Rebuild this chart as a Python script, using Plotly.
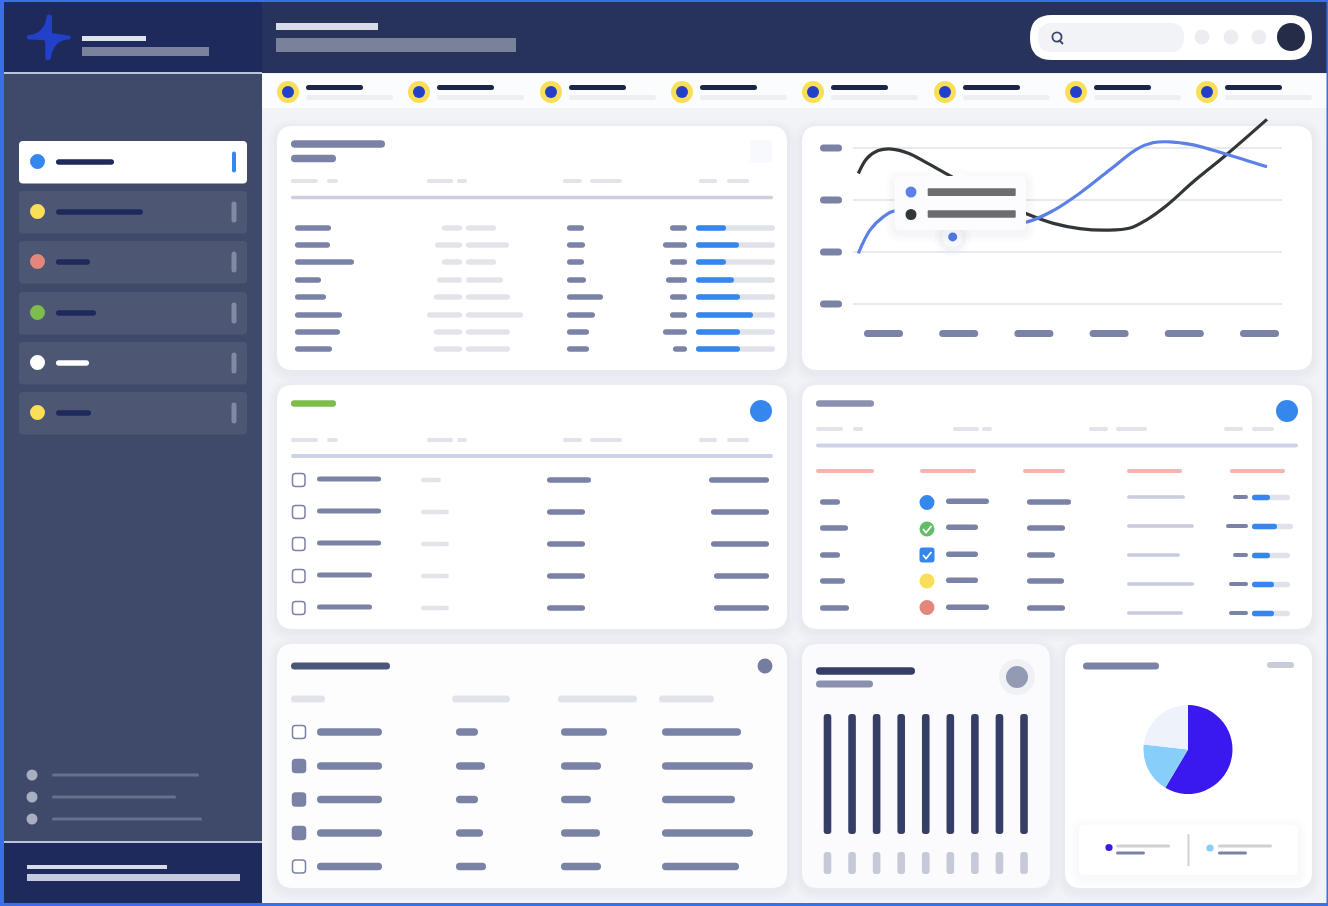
import plotly.graph_objects as go

W, H = 1328, 906

# ---- chart data ----
line_months = [0, 1, 2, 3, 4, 5]
line_levels = [0, 1, 2, 3]
dark_x = [-0.335, -0.22, -0.07, 0.11, 0.33, 0.57, 0.88, 1.40, 1.91, 2.26, 2.61, 2.97, 3.28, 3.50, 3.77, 4.12, 4.56, 5.10]
dark_y = [2.51, 2.80, 2.95, 2.98, 2.90, 2.72, 2.47, 2.06, 1.73, 1.55, 1.45, 1.42, 1.46, 1.62, 1.90, 2.35, 2.87, 3.55]
blue_x = [-0.335, -0.18, 0.0, 0.15, 0.50, 1.00, 1.50, 1.91, 2.25, 2.61, 3.01, 3.37, 3.58, 3.77, 4.12, 4.56, 5.10]
blue_y = [0.975, 1.42, 1.68, 1.79, 1.72, 1.60, 1.55, 1.58, 1.79, 2.13, 2.58, 2.98, 3.10, 3.12, 3.06, 2.88, 2.64]
hover_x = [0.92]
hover_y = [1.29]

bar_slots = [0, 1, 2, 3, 4, 5, 6, 7, 8]
tall_bars = [120, 120, 120, 120, 120, 120, 120, 120, 120]
short_bars = [22, 22, 22, 22, 22, 22, 22, 22, 22]

pie_labels = ["A", "B", "C"]
pie_values = [58.5, 18.3, 23.2]

# ---- skeleton rows of the placeholder tables ----
t1_rows = [228, 245, 262, 280, 297, 315, 332, 349]
t1_a = [331, 330, 354, 321, 326, 342, 340, 332]
t1_b = [442, 435, 442, 437, 434, 427, 434, 434]
t1_c = [496, 509, 496, 503, 510, 523, 510, 510]
t1_d = [584, 585, 584, 586, 603, 595, 589, 589]
t1_e = [670, 663, 670, 666, 670, 670, 663, 673]
t1_f = [726, 739, 726, 734, 740, 753, 740, 740]

t3_rows = [480, 512, 544, 576, 608]
t3_a = [381, 381, 381, 372, 372]
t3_c = [591, 585, 585, 585, 585]
t3_d = [709, 711, 711, 714, 714]

t4_rows = [502, 528, 555, 581, 608]
t4_a = [840, 848, 840, 845, 849]
t4_b = [989, 978, 978, 978, 989]
t4_c = [1071, 1065, 1055, 1064, 1065]
t4_d = [1185, 1194, 1180, 1194, 1183]
t4_e = [1233, 1226, 1233, 1229, 1229]
t4_f = [1270, 1277, 1270, 1274, 1274]
t4_g = [1290, 1293, 1290, 1290, 1290]
t4_sub = [497, 526, 555, 584, 613]

t5_rows = [732, 766, 799.5, 833, 866.5]
t5_filled = [False, True, True, True, False]
t5_b = [478, 485, 478, 483, 486]
t5_c = [607, 601, 591, 600, 601]
t5_d = [741, 753, 735, 753, 739]

nav_rows = [141, 191, 241, 292, 342, 392]
nav_dots = ["#3587ee", "#f9de58", "#e2877a", "#7cbd4d", "#ffffff", "#f9de58"]
nav_ends = [114, 143, 90, 96, 89, 91]
stat_x = [288, 419, 551, 682, 813, 945, 1076, 1207]

SLATE = "#7a82a6"
LIGHT = "#e3e4ea"
shapes = []


def rr_path(x0, y0, x1, y1, r):
    r = min(r, (x1 - x0) / 2, (y1 - y0) / 2)
    return (f"M{x0+r},{y0} L{x1-r},{y0} Q{x1},{y0} {x1},{y0+r} L{x1},{y1-r} Q{x1},{y1} {x1-r},{y1} "
            f"L{x0+r},{y1} Q{x0},{y1} {x0},{y1-r} L{x0},{y0+r} Q{x0},{y0} {x0+r},{y0} Z")


def rr(x0, y0, x1, y1, r, fill, line=None, lw=0, layer="below"):
    shapes.append(dict(type="path", xref="x", yref="y", path=rr_path(x0, y0, x1, y1, r), fillcolor=fill,
                       line=dict(color=line or "rgba(0,0,0,0)", width=lw), layer=layer))


def pill(x0, x1, yc, h, fill, layer="below"):
    rr(x0, yc - h / 2, x1, yc + h / 2, h / 2, fill, layer=layer)


def rect(x0, y0, x1, y1, fill, layer="below"):
    shapes.append(dict(type="rect", xref="x", yref="y", x0=x0, y0=y0, x1=x1, y1=y1, fillcolor=fill,
                       line=dict(width=0), layer=layer))


def dot(cx, cy, r, fill, line=None, lw=0, layer="below"):
    shapes.append(dict(type="circle", xref="x", yref="y", x0=cx - r, y0=cy - r, x1=cx + r, y1=cy + r, fillcolor=fill,
                       line=dict(color=line or "rgba(0,0,0,0)", width=lw), layer=layer))


def stroke(path, color, lw, layer="below"):
    shapes.append(dict(type="path", xref="x", yref="y", path=path, line=dict(color=color, width=lw), layer=layer))


def shadow(x0, y0, x1, y1, r, layer="below", alpha=0.02):
    for g in (9, 6, 3):
        rr(x0 - g, y0 - g + 3, x1 + g, y1 + g + 3, r + g, f"rgba(110,120,150,{alpha})", layer=layer)


def card(x0, y0, x1, y1, fill="#ffffff"):
    shadow(x0, y0, x1, y1, 16)
    rr(x0, y0, x1, y1, 16, fill)


# ---- frame, sidebar, header ----
rect(0, 0, W, H, "#f2f3f6")
rect(4, 73, 262, 842, "#3f4a6b")
rect(4, 2, 262, 72, "#1f2a5c")
rect(262, 2, W, 73, "#28335c")
rect(4, 842, 262, 904, "#1f2a5c")
rect(4, 72, 262, 74, "#bcc4dc")
rect(4, 841, 262, 843, "#bcc4dc")
shapes.append(dict(type="path", xref="x", yref="y", fillcolor="#2340c8", line=dict(width=0), layer="below",
                   path="M46.7,16 Q47,14.5 49.3,14.5 Q52,14.5 52,16.5 L52,33 L70,35.7 Q71.5,37.5 70,39.3 "
                        "Q53,40 50.7,59 Q49,60.5 47,60 Q45.3,60 45.3,58 L45.3,44.7 L44.7,40.3 L27.5,39.3 "
                        "Q26,37.5 27.5,35.3 Q44.7,34 46.7,16 Z"))
rect(82, 36, 146, 41, "#dfe3ec")
rect(82, 47, 209, 56, "#7a829c")
rect(276, 23, 378, 30, "#d8dce8")
rect(276, 38, 516, 52, "#7a8299")

rr(1030, 15, 1312, 60, 22, "#ffffff")
rr(1038, 23, 1184, 52, 14, "#f2f3f7")
dot(1057, 37, 4.6, "rgba(0,0,0,0)", "#3b4466", 1.8)
stroke("M1060,41 L1063,44", "#3b4466", 1.8)
for cx in (1202, 1231, 1259):
    dot(cx, 37, 7.5, "#ededf1")
dot(1291, 37, 14, "#242c48")

for i, top in enumerate(nav_rows):
    active = i == 0
    rr(19, top, 247, top + 42.5, 4, "#ffffff" if active else "#4d5673")
    dot(37.5, top + 20.5, 7.5, nav_dots[i])
    pill(56, nav_ends[i], top + 21, 5.5, "#ffffff" if i == 4 else "#1e2a5c")
    if active:
        pill(232, 236, top + 21, 21, "#3587ee")
    else:
        pill(231.5, 236.5, top + 21, 21, "#828aa3")

for cy, end in zip((775, 797, 819), (199, 176, 202)):
    dot(32, cy, 5.5, "#a9afc2")
    pill(52, end, cy, 3.2, "#68708c")
rect(27, 865, 167, 869, "#d8dce8")
rect(27, 874, 240, 881, "#c5cbde")

# ---- stat strip ----
rect(262, 74, W, 108, "#fbfcfe")
for cx in stat_x:
    dot(cx, 92, 11, "#f9de58")
    dot(cx, 92, 6, "#2340c8")
    pill(cx + 18, cx + 75, 87.5, 5, "#1c2748")
    pill(cx + 18, cx + 105, 97.5, 5, "#eeeff3")


def small_header(xs, yc):
    for a, b in xs:
        pill(a, b, yc, 4, LIGHT)


# ---- card 1 ----
card(277, 126, 787, 370)
pill(291, 385, 144, 7.5, SLATE)
pill(291, 336, 158.5, 7.5, SLATE)
rr(750, 140, 772, 163, 4, "#f8f9fc")
hdr = [(291, 318), (327, 338), (427, 453), (457, 467), (563, 582), (590, 622), (699, 717), (727, 749)]
small_header(hdr, 181)
pill(291, 773, 197.5, 3.5, "#cdcfde")
for i, y in enumerate(t1_rows):
    pill(295, t1_a[i], y, 5.5, SLATE)
    pill(t1_b[i], 462, y, 5.5, LIGHT)
    pill(466, t1_c[i], y, 5.5, LIGHT)
    pill(567, t1_d[i], y, 5.5, SLATE)
    pill(t1_e[i], 687, y, 5.5, SLATE)
    pill(696, 775, y, 5.5, "#e0e2e9")
    pill(696, t1_f[i], y, 5.5, "#3587ee")

# ---- card 2 (line chart) ----
card(802, 126, 1312, 370)
for y in (148, 200, 252, 304):
    pill(820, 842, y, 7, SLATE)
for cx in line_months:
    pill(864 + cx * 75.2, 903 + cx * 75.2, 333.5, 7, SLATE)
dot(952.3, 238, 14, "rgba(110,120,150,0.05)")
dot(952.3, 238, 18, "rgba(110,120,150,0.03)")

# ---- card 3 ----
card(277, 385, 787, 629)
pill(291, 336, 403.5, 6.5, "#7cbd4d")
dot(761, 411, 11, "#3587ee")
small_header(hdr, 440)
pill(291, 773, 456, 4, "#cdd2e6")
for i, y in enumerate(t3_rows):
    rr(292.5, y - 6.5, 305, y + 6.5, 3, "#ffffff", SLATE, 1.5)
    pill(317, t3_a[i], y - 1, 5, SLATE)
    pill(421, 441 if i == 0 else 449, y, 4.5, LIGHT)
    pill(547, t3_c[i], y, 5.5, SLATE)
    pill(t3_d[i], 769, y, 5.5, SLATE)

# ---- card 4 ----
card(802, 385, 1312, 629)
pill(816, 874, 403.5, 6.5, "#8a90ad")
dot(1287, 411, 11, "#3587ee")
small_header([(816, 843), (853, 863), (953, 979), (982, 992), (1089, 1108), (1116, 1147), (1224, 1243), (1252, 1274)], 429)
pill(816, 1298, 445.5, 4, "#cdd2e6")
for a, b in ((816, 874), (920, 976), (1023, 1065), (1127, 1182), (1230, 1285)):
    pill(a, b, 471, 3.8, "#f3b5ae")
for i, y in enumerate(t4_rows):
    pill(820, t4_a[i], y, 5.5, SLATE)
    pill(946, t4_b[i], y - 0.8, 5.5, SLATE)
    pill(1027, t4_c[i], y, 5.5, SLATE)
    pill(1127, t4_d[i], t4_sub[i], 3.5, "#c8ccdc")
    pill(t4_e[i], 1248, t4_sub[i], 4, SLATE)
    pill(1252, t4_g[i], t4_sub[i] + 0.5, 5.5, "#e0e2e9")
    pill(1252, t4_f[i], t4_sub[i] + 0.5, 5.5, "#3587ee")
dot(927, 502.5, 7.5, "#3587ee")
dot(927, 529, 7.5, "#62bd6a")
stroke("M923,529 L926,532.5 L931.5,526", "#ffffff", 1.8)
rr(919.5, 547.5, 934.5, 562.5, 3, "#3587ee")
stroke("M923,555 L926,558.5 L931.5,552", "#ffffff", 1.8)
dot(927, 581, 7.5, "#f9de58")
dot(927, 607.5, 7.5, "#e2877a")

# ---- card 5 ----
card(277, 644, 787, 888, "#fdfdfe")
pill(291, 390, 666, 7, "#4c5678")
dot(765, 666, 7.5, "#767e9f")
for a, b in ((291, 325), (452, 510), (558, 637), (659, 714)):
    pill(a, b, 699, 7, "#e1e3ea")
for i, y in enumerate(t5_rows):
    rr(292.5, y - 6.5, 305.5, y + 6.5, 3, SLATE if t5_filled[i] else "#ffffff", SLATE, 1.5)
    pill(317, 382, y, 7.5, SLATE)
    pill(456, t5_b[i], y, 7.5, SLATE)
    pill(561, t5_c[i], y, 7.5, SLATE)
    pill(662, t5_d[i], y, 7.5, SLATE)

# ---- card 6 (bars) ----
card(802, 644, 1050, 888, "#fbfbfd")
pill(816, 915, 671, 7.5, "#353f66")
pill(816, 873, 684, 7, "#8a90ad")
dot(1017, 677, 18, "#f0f1f4")
dot(1017, 677, 11, "#939ab4")

# ---- card 7 (pie) ----
card(1065, 644, 1312, 888)
pill(1083, 1159, 666, 7, SLATE)
pill(1267, 1294, 665, 6, "#c8ccd8")
shadow(1079, 825, 1298, 875, 6, alpha=0.012)
rr(1079, 825, 1298, 875, 6, "#ffffff")
dot(1109, 847.5, 3.6, "#3a19f0")
pill(1116, 1170, 846, 3.2, "#cfd0d6")
pill(1116, 1145, 853, 3.2, SLATE)
rect(1187.5, 834, 1189.5, 866, "#d0d2dc")
dot(1210, 848, 3.6, "#87cffa")
pill(1218, 1272, 846, 3.2, "#cfd0d6")
pill(1218, 1247, 853, 3.2, SLATE)

# ---- tooltip sits over the lines ----
shadow(895, 176, 1026, 230, 6, layer="above")
shapes.append(dict(type="path", xref="x", yref="y", path="M950,177 Q956,176 960,166 Q964,176 972,177 Z",
                   fillcolor="#fcfcfe", line=dict(width=0), layer="above"))
rr(894.5, 176, 1026, 230, 6, "#fcfcfe", layer="above")
dot(911, 192, 5.5, "#5b80e8", layer="above")
dot(911, 214.5, 5.5, "#333638", layer="above")
rr(927.7, 188.3, 1015.7, 196, 1, "#6d6d6d", layer="above")
rr(927.7, 210.3, 1015.7, 217.7, 1, "#6d6d6d", layer="above")

# ---- frame on top ----
for box in ((0, 0, 4, H), (0, 0, W, 2), (0, 903, W, H), (1326.5, 0, W, H)):
    rect(*box, "#3b6fe8", layer="above")


def xdom(a, b):
    return [a / W, b / W]


def ydom(top, bottom):
    return [1 - bottom / H, 1 - top / H]


fig = go.Figure()
# Base layer: an invisible anchor so the page-wide axes exist.
fig.add_trace(go.Scatter(x=[0, W], y=[0, H], mode="markers", marker=dict(opacity=0), hoverinfo="skip", showlegend=False))

# Line chart
fig.add_trace(go.Scatter(x=dark_x, y=dark_y, mode="lines", xaxis="x2", yaxis="y2", hoverinfo="skip", showlegend=False,
                         line=dict(color="#333638", width=3.2, shape="spline", smoothing=1)))
fig.add_trace(go.Scatter(x=blue_x, y=blue_y, mode="lines", xaxis="x2", yaxis="y2", hoverinfo="skip", showlegend=False,
                         line=dict(color="#5b80e8", width=3.2, shape="spline", smoothing=1)))
fig.add_trace(go.Scatter(x=hover_x, y=hover_y, mode="markers", xaxis="x2", yaxis="y2", hoverinfo="skip", showlegend=False,
                         marker=dict(color="#4f78e2", size=14.5, line=dict(color="#f8f9fc", width=5.5))))

# Bar chart
fig.add_trace(go.Bar(x=bar_slots, y=tall_bars, base=40, width=0.31, xaxis="x3", yaxis="y3", hoverinfo="skip", showlegend=False,
                     marker=dict(color="#353f66", cornerradius=4, line=dict(width=0))))
fig.add_trace(go.Bar(x=bar_slots, y=short_bars, base=0, width=0.31, xaxis="x3", yaxis="y3", hoverinfo="skip", showlegend=False,
                     marker=dict(color="#c5c9d8", cornerradius=4, line=dict(width=0))))

# Pie chart
fig.add_trace(go.Pie(labels=pie_labels, values=pie_values, sort=False, direction="clockwise", rotation=0,
                     textinfo="none", hoverinfo="skip", showlegend=False,
                     marker=dict(colors=["#3a19f0", "#87cffa", "#eef2fa"], line=dict(width=0)),
                     domain=dict(x=xdom(1143.5, 1232.5), y=ydom(705, 794))))

off = dict(visible=False, fixedrange=True)
fig.update_layout(
    width=W, height=H, autosize=False, margin=dict(l=0, r=0, t=0, b=0),
    paper_bgcolor="#f2f3f6", plot_bgcolor="rgba(0,0,0,0)", barmode="overlay", shapes=shapes,
    xaxis=dict(range=[0, W], domain=[0, 1], **off),
    yaxis=dict(range=[H, 0], domain=[0, 1], **off),
    xaxis2=dict(range=[-0.406, 5.30], domain=xdom(853, 1282), anchor="y2", **off),
    yaxis2=dict(range=[-0.1, 3.75], domain=ydom(109, 309.2), anchor="x2", fixedrange=True,
                tickmode="array", tickvals=line_levels, showticklabels=False, ticks="", showgrid=True,
                gridcolor="#e8e9ee", gridwidth=1.6, zeroline=False, showline=False),
    xaxis3=dict(range=[-0.5, 8.5], domain=xdom(815.2, 1036.3), anchor="y3", **off),
    yaxis3=dict(range=[0, 160], domain=ydom(714, 874), anchor="x3", **off),
)

fig.write_html("out.html", config=dict(displayModeBar=False, responsive=False),
               post_script="document.body.style.margin='0';document.body.style.overflow='hidden';")
